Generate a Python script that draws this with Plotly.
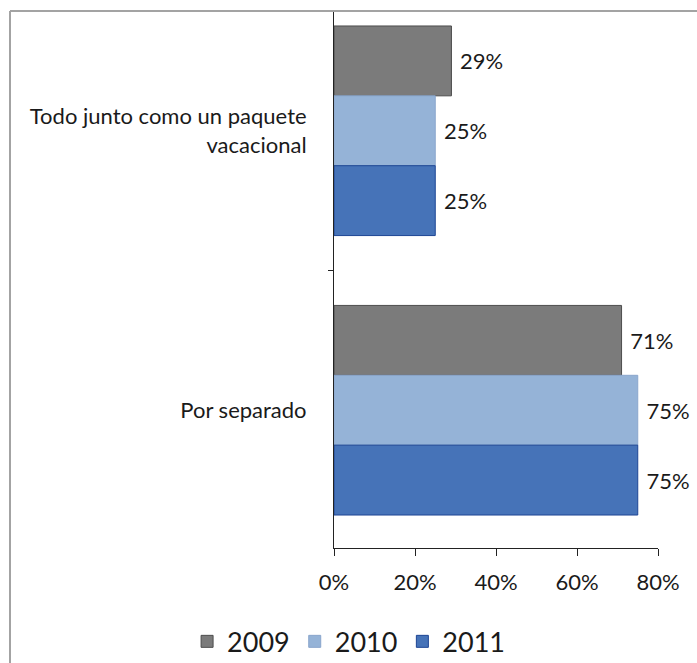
import plotly.graph_objects as go

categories = ["Todo junto como un paquete<br>vacacional", "Por separado"]
years = ["2009", "2010", "2011"]
values_2009 = [0.29, 0.71]
values_2010 = [0.25, 0.75]
values_2011 = [0.25, 0.75]
x_ticks = [0, 0.2, 0.4, 0.6, 0.8]

series = [values_2009, values_2010, values_2011]
fills = ["#7b7b7b", "#95b3d7", "#4673b8"]
borders = ["#4d4d4d", "#8aa6cc", "#1d4594"]

FONT = "Lato"
FS = 22

fig = go.Figure()
for name, vals, fc, bc in zip(years, series, fills, borders):
    fig.add_trace(go.Bar(
        y=categories, x=vals, name=name, orientation="h",
        marker=dict(color=fc, line=dict(color=bc, width=1)),
        texttemplate="\u00a0%{x:.0%}", textposition="outside",
        textfont=dict(family=FONT, size=FS, color="#1a1a1a"),
        constraintext="none", cliponaxis=False,
    ))

fig.update_layout(
    barmode="group", bargap=0.25, bargroupgap=0,
    width=697, height=663,
    margin=dict(l=334, r=39, t=12, b=115, autoexpand=False),
    paper_bgcolor="white", plot_bgcolor="white",
    font=dict(family=FONT, size=FS, color="#1a1a1a"),
    showlegend=True,
    legend=dict(orientation="h", x=0.045, xanchor="center", y=-0.175, yanchor="middle",
                font=dict(family=FONT, size=27, color="#1a1a1a"),
                itemwidth=30, tracegroupgap=0),
    xaxis=dict(range=[0, 0.8], tickvals=x_ticks, tickformat=".0%",
               showline=True, linecolor="#222", linewidth=1,
               ticks="outside", ticklen=7, tickcolor="#222",
               ticklabelstandoff=8, automargin=False,
               showgrid=False, zeroline=False,
               tickfont=dict(family=FONT, size=FS, color="#1a1a1a")),
    yaxis=dict(range=[1.493, -0.425], type="category",
               showline=True, linecolor="#222", linewidth=1,
               ticks="outside", ticklen=5, tickcolor="#222", tickson="boundaries",
               ticklabelstandoff=22, automargin=False, showgrid=False, zeroline=False,
               tickfont=dict(family=FONT, size=FS, color="#1a1a1a")),
    shapes=[
        dict(type="line", xref="paper", yref="paper", x0=-1.0, x1=1.2, y0=1.002, y1=1.002,
             line=dict(color="#a3a3a3", width=2)),
        dict(type="line", xref="paper", yref="paper", x0=-1.0, x1=-1.0, y0=1.002, y1=-0.3,
             line=dict(color="#a3a3a3", width=2)),
    ],
)

fig.write_html("out.html")
